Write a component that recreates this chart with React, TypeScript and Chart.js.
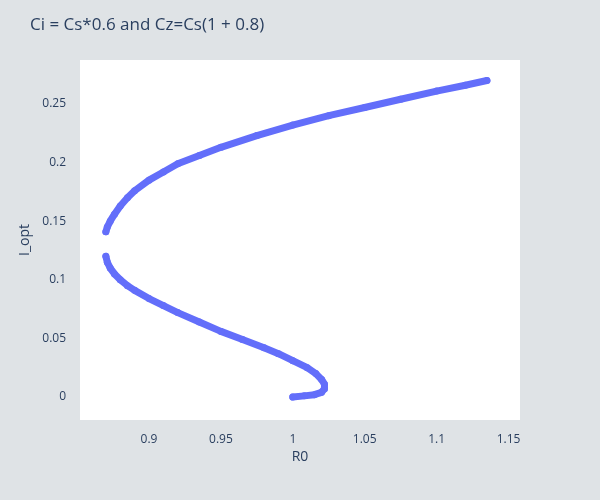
import { useEffect, useRef } from "react";
import Chart from "chart.js/auto";

// upper branch, from the vertex outward
const upperR0 = [0.87, 0.871, 0.873, 0.876, 0.88, 0.885, 0.89, 0.9, 0.91, 0.92, 0.935, 0.95, 0.975, 1.0, 1.025, 1.05, 1.075, 1.1, 1.12, 1.135];
const upperI = [0.141, 0.145, 0.15, 0.156, 0.163, 0.17, 0.176, 0.185, 0.192, 0.199, 0.206, 0.213, 0.223, 0.232, 0.24, 0.247, 0.254, 0.261, 0.266, 0.27];
// lower branch, from the vertex down to R0 = 1
const lowerR0 = [0.87, 0.871, 0.873, 0.876, 0.88, 0.885, 0.89, 0.9, 0.91, 0.92, 0.935, 0.95, 0.965, 0.98, 0.99, 1.0, 1.01, 1.016, 1.02, 1.022, 1.022, 1.02, 1.015, 1.008, 1.0];
const lowerI = [0.12, 0.115, 0.11, 0.105, 0.1, 0.095, 0.091, 0.084, 0.078, 0.072, 0.064, 0.056, 0.049, 0.042, 0.037, 0.031, 0.025, 0.02, 0.015, 0.011, 0.007, 0.004, 0.002, 0.001, 0.0];
const xTicks = [0.9, 0.95, 1, 1.05, 1.1, 1.15];
const yTicks = [0, 0.05, 0.1, 0.15, 0.2, 0.25];

const color = "#636efa";
const text = "#2a3f5f";
const font = "'Open Sans', 'DejaVu Sans', sans-serif";

const decor = {
  id: "decor",
  beforeDraw(chart: any) {
    const { ctx, chartArea: a } = chart;
    ctx.save();
    ctx.fillStyle = "#dfe3e6";
    ctx.fillRect(0, 0, chart.width, chart.height);
    ctx.fillStyle = "#ffffff";
    ctx.fillRect(a.left, a.top, a.right - a.left, a.bottom - a.top);
    ctx.restore();
  },
  afterDraw(chart: any) {
    const { ctx } = chart;
    ctx.save();
    ctx.fillStyle = text;
    ctx.font = `17px ${font}`;
    ctx.textBaseline = "middle";
    ctx.fillText("Ci = Cs*0.6 and Cz=Cs(1 + 0.8)", 30, 25);
    ctx.font = `14px ${font}`;
    ctx.textAlign = "center";
    ctx.fillText("R0", 300, 457);
    ctx.translate(25, 240);
    ctx.rotate(-Math.PI / 2);
    ctx.fillText("I_opt", 0, 0);
    ctx.restore();
  },
};

export default function App() {
  const ref = useRef<HTMLCanvasElement>(null);

  useEffect(() => {
    document.body.style.margin = "0";
    if (!ref.current) return;
    const series = (xs: number[], ys: number[]) => ({
      data: xs.map((x, i) => ({ x, y: ys[i] })),
      showLine: true,
      borderColor: color,
      backgroundColor: color,
      borderWidth: 7,
      pointRadius: 3.5,
      pointBorderWidth: 0,
      borderCapStyle: "round" as const,
      borderJoinStyle: "round" as const,
    });
    const chart = new Chart(ref.current, {
      type: "scatter",
      data: { datasets: [series(upperR0, upperI), series(lowerR0, lowerI)] },
      options: {
        animation: false,
        responsive: false,
        layout: { padding: { left: 0, top: 60, right: 80, bottom: 0 } },
        plugins: { legend: { display: false }, tooltip: { enabled: false } },
        scales: {
          x: {
            min: 0.852,
            max: 1.158,
            grid: { display: false },
            border: { display: false },
            afterBuildTicks: (s: any) => { s.ticks = xTicks.map((value) => ({ value })); },
            afterFit: (s: any) => { s.height = 80; },
            ticks: { color: text, font: { size: 12, family: font }, padding: 4, maxRotation: 0, callback: (v: any) => String(v) },
          },
          y: {
            min: -0.0196,
            max: 0.2875,
            grid: { display: false },
            border: { display: false },
            afterBuildTicks: (s: any) => { s.ticks = yTicks.map((value) => ({ value })); },
            afterFit: (s: any) => { s.width = 80; },
            ticks: { color: text, font: { size: 12, family: font }, padding: 6, callback: (v: any) => String(v) },
          },
        },
      },
      plugins: [decor],
    });
    return () => chart.destroy();
  }, []);

  return <canvas ref={ref} width={600} height={500} style={{ display: "block" }} />;
}
